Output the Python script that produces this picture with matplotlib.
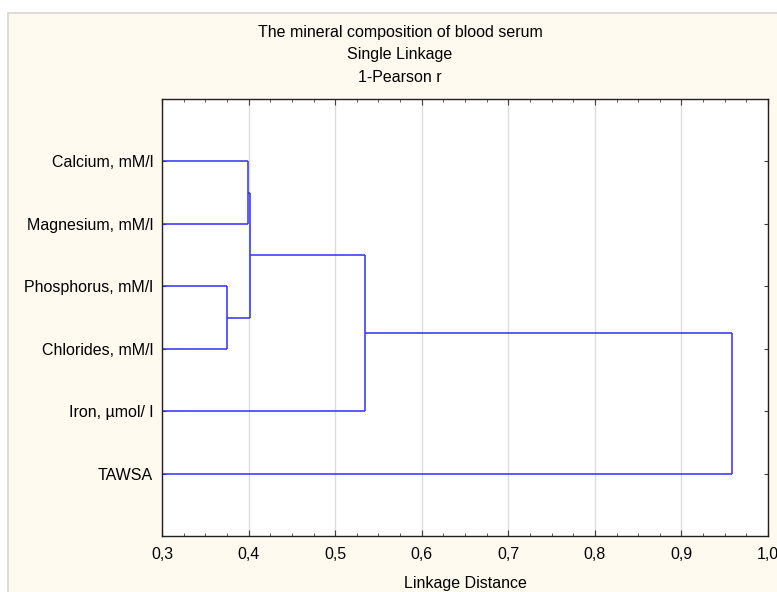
import matplotlib
matplotlib.use("Agg")
import matplotlib.pyplot as plt
from matplotlib.patches import Rectangle
from matplotlib.ticker import MultipleLocator, FuncFormatter

plt.rcParams['font.family'] = ['Liberation Sans', 'DejaVu Sans']

# leaves, top to bottom
labels = ["Calcium, mM/l", "Magnesium, mM/l", "Phosphorus, mM/l",
          "Chlorides, mM/l", "Iron, µmol/ l", "TAWSA"]

# single linkage merges: (cluster a, cluster b, distance)
# clusters 0..5 are leaves, new clusters get ids 6, 7, ...
merge_a = [2, 0, 7, 8, 9]
merge_b = [3, 1, 6, 4, 5]
merge_dist = [0.375, 0.3997, 0.4016, 0.534, 0.958]

title_lines = ["The mineral composition of blood serum", "Single Linkage", "1-Pearson r"]

W, H = 777, 592
fig = plt.figure(figsize=(W / 100, H / 100), dpi=100)
fig.patch.set_facecolor("white")

# cream panel behind the whole chart
fig.patches.append(Rectangle((8 / W, -0.01), 1.0, (H - 13) / H + 0.01,
                             transform=fig.transFigure, facecolor="#fffaef",
                             edgecolor="#d8d6d0", linewidth=1.2, zorder=-5))

ax = fig.add_axes([162 / W, (H - 536) / H, (768 - 162) / W, (536 - 99) / H])
ax.set_facecolor("white")
ax.set_zorder(2)

x0 = 0.3
n = len(labels)
pos_y = {i: i + 1 for i in range(n)}
pos_x = {i: x0 for i in range(n)}

line_kw = dict(color="#2f2fff", linewidth=1.1, solid_capstyle="butt")
for k, (a, b, d) in enumerate(zip(merge_a, merge_b, merge_dist)):
    ya, yb = pos_y[a], pos_y[b]
    ax.plot([pos_x[a], d], [ya, ya], **line_kw)
    ax.plot([pos_x[b], d], [yb, yb], **line_kw)
    ax.plot([d, d], [ya, yb], **line_kw)
    new = n + k
    pos_y[new] = (ya + yb) / 2
    pos_x[new] = d

ax.set_xlim(0.3, 1.0)
ax.set_ylim(n + 1, 0)

ax.xaxis.set_major_locator(MultipleLocator(0.1))
ax.xaxis.set_minor_locator(MultipleLocator(0.025))
ax.xaxis.set_major_formatter(FuncFormatter(lambda v, p: f"{v:.1f}".replace(".", ",")))
ax.set_yticks(range(1, n + 1))
ax.set_yticklabels(labels)

ax.grid(axis="x", which="major", color="#dcdcdc", linewidth=1.0)
ax.set_axisbelow(True)

fs = 11.5
ax.tick_params(axis="x", which="both", direction="in", top=True, bottom=True,
               labelsize=fs, pad=8, color="#404040")
ax.tick_params(axis="x", which="major", length=4)
ax.tick_params(axis="x", which="minor", length=2.5)
ax.tick_params(axis="y", direction="in", left=True, right=True, length=3,
               labelsize=fs, pad=6.5, color="#404040")

for s in ax.spines.values():
    s.set_color("#202020")
    s.set_linewidth(1.0)

ax.set_xlabel("Linkage Distance", fontsize=fs, labelpad=10)

for i, t in enumerate(title_lines):
    fig.text(400 / W, 1 - (33 + 22 * i) / H, t, ha="center", va="center", fontsize=fs)

fig.savefig("out.png", dpi=100, facecolor=fig.get_facecolor())
